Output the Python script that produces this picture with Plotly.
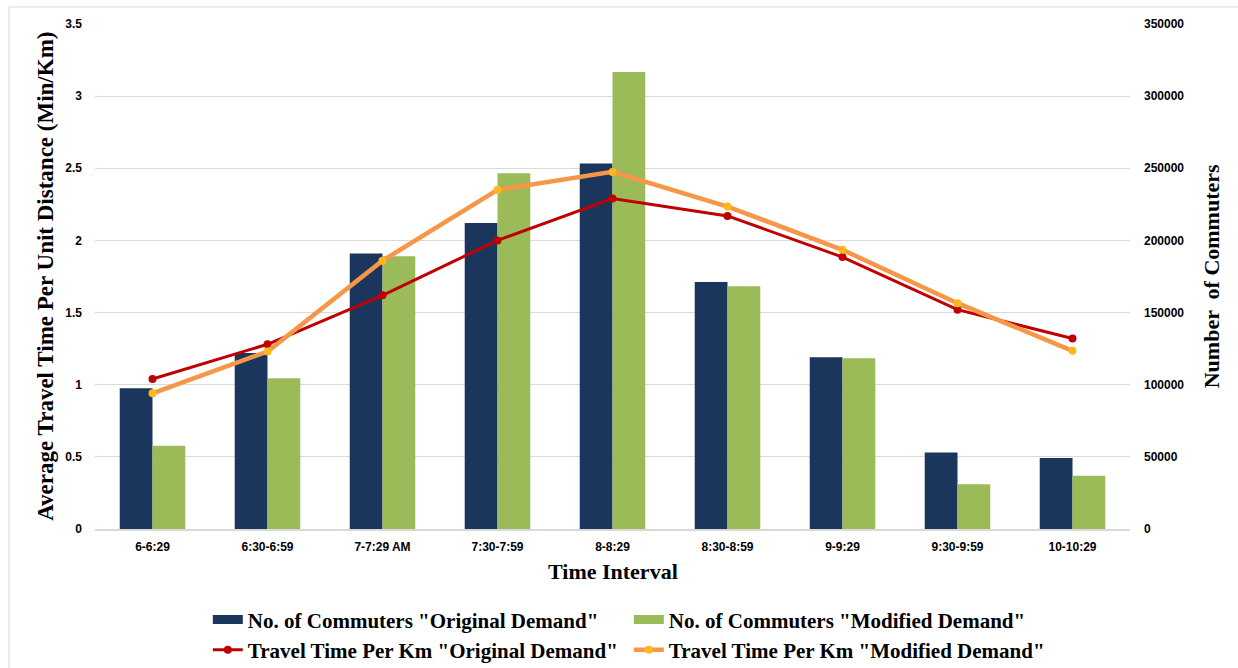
import plotly.graph_objects as go

# Time intervals (morning peak)
intervals = ["6-6:29", "6:30-6:59", "7-7:29 AM", "7:30-7:59", "8-8:29",
             "8:30-8:59", "9-9:29", "9:30-9:59", "10-10:29"]

# Number of commuters per interval
commuters_original = [97500, 122000, 191000, 212000, 253400, 171200, 119000, 53100, 49200]
commuters_modified = [57700, 104400, 189000, 246500, 316700, 168200, 118300, 31000, 36900]

# Average travel time per unit distance (min/km)
tt_original = [1.04, 1.28, 1.62, 2.00, 2.29, 2.17, 1.885, 1.52, 1.32]
tt_modified = [0.94, 1.23, 1.86, 2.35, 2.475, 2.235, 1.935, 1.565, 1.235]

left_ticks = [0, 0.5, 1, 1.5, 2, 2.5, 3, 3.5]
left_ticktext = ["0", "0.5", "1", "1.5", "2", "2.5", "3", "3.5"]
right_ticks = [0, 50000, 100000, 150000, 200000, 250000, 300000, 350000]
right_ticktext = ["0", "50000", "100000", "150000", "200000", "250000", "300000", "350000"]

serif = "Liberation Serif, Times New Roman, serif"
sans = "Liberation Sans, Arial, sans-serif"

NAVY = "#1B365D"
GREEN = "#9BBB59"
RED = "#C00000"
ORANGE = "#F79646"
AMBER = "#FFB81C"

names = ['No. of Commuters "Original Demand"', 'No. of Commuters "Modified Demand"',
         'Travel Time Per Km "Original Demand"', 'Travel Time Per Km "Modified Demand"']

fig = go.Figure()

# Bars use the primary axis (drawn on the right), lines use the overlaying left axis
fig.add_trace(go.Bar(x=intervals, y=commuters_original, name=names[0],
                     marker=dict(color=NAVY, line=dict(width=0)),
                     yaxis="y", showlegend=False))
fig.add_trace(go.Bar(x=intervals, y=commuters_modified, name=names[1],
                     marker=dict(color=GREEN, line=dict(width=0)),
                     yaxis="y", showlegend=False))
fig.add_trace(go.Scatter(x=intervals, y=tt_original, mode="lines+markers", name=names[2],
                         line=dict(color=RED, width=3),
                         marker=dict(color=RED, size=8),
                         yaxis="y2", legend="legend2"))
fig.add_trace(go.Scatter(x=intervals, y=tt_modified, mode="lines+markers", name=names[3],
                         line=dict(color=ORANGE, width=4.5),
                         marker=dict(color=AMBER, size=8),
                         yaxis="y2", legend="legend2"))

# Wide flat keys for the bar series in the first legend row
fig.add_trace(go.Scatter(x=[None], y=[None], mode="lines", name=names[0],
                         line=dict(color=NAVY, width=9), yaxis="y2", legend="legend"))
fig.add_trace(go.Scatter(x=[None], y=[None], mode="lines", name=names[1],
                         line=dict(color=GREEN, width=9), yaxis="y2", legend="legend"))

legend_common = dict(
    orientation="h", x=0.109, xanchor="left", yanchor="middle",
    entrywidth=376, entrywidthmode="pixels",
    font=dict(family=serif, size=21, color="#000000", weight="bold"),
    tracegroupgap=0, itemwidth=30, bgcolor="rgba(0,0,0,0)",
)

fig.update_layout(
    width=1238, height=668,
    margin=dict(l=95, r=108, t=24, b=139, autoexpand=False),
    paper_bgcolor="white", plot_bgcolor="white",
    barmode="group", bargap=0.43, bargroupgap=0,
    xaxis=dict(
        type="category",
        showgrid=False, showline=True, linecolor="#D9D9D9", linewidth=1.5,
        ticks="", ticklabelstandoff=6,
        tickfont=dict(family=sans, size=12, color="#000000", weight="bold"),
    ),
    yaxis=dict(
        side="right", range=[0, 350000], tickvals=right_ticks, ticktext=right_ticktext,
        showgrid=False, zeroline=False, showline=False, ticks="",
        ticklabelstandoff=13,
        tickfont=dict(family=sans, size=12, color="#000000", weight="bold"),
    ),
    yaxis2=dict(
        overlaying="y", side="left", range=[0, 3.5],
        tickvals=left_ticks, ticktext=left_ticktext,
        showgrid=True, gridcolor="#D9D9D9", gridwidth=1.2,
        zeroline=False, showline=False, ticks="",
        ticklabelstandoff=12,
        tickfont=dict(family=sans, size=12, color="#000000", weight="bold"),
    ),
    legend=dict(legend_common, y=-0.180),
    legend2=dict(legend_common, y=-0.240),
    showlegend=True,
)

# Axis titles
fig.add_annotation(text="Average Travel Time Per Unit Distance (Min/Km)",
                   xref="paper", yref="paper", x=-0.048, y=0.5,
                   xanchor="center", yanchor="middle", textangle=-90,
                   showarrow=False,
                   font=dict(family=serif, size=23, color="#000000", weight="bold"))
fig.add_annotation(text="Number  of Commuters",
                   xref="paper", yref="paper", x=1.079, y=0.5,
                   xanchor="center", yanchor="middle", textangle=-90,
                   showarrow=False,
                   font=dict(family=serif, size=22, color="#000000", weight="bold"))
fig.add_annotation(text="Time Interval",
                   xref="paper", yref="paper", x=0.5, y=-0.085,
                   xanchor="center", yanchor="middle",
                   showarrow=False,
                   font=dict(family=serif, size=22, color="#000000", weight="bold"))

# Chart-area frame (left and top edges fall inside the page)
fig.add_shape(type="rect", xref="paper", yref="paper",
              x0=-0.0831, x1=1.2, y0=-0.5, y1=1.0337,
              line=dict(color="#D9D9D9", width=1), layer="below")

fig.write_html("out.html")
